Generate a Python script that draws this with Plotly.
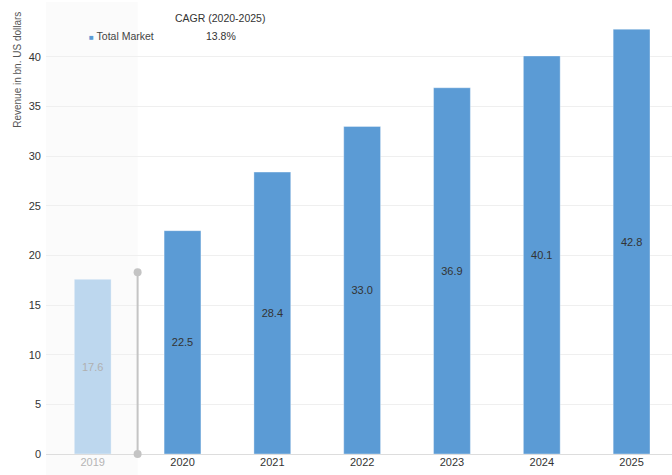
import plotly.graph_objects as go

years = ["2019", "2020", "2021", "2022", "2023", "2024", "2025"]
revenue = [17.6, 22.5, 28.4, 33.0, 36.9, 40.1, 42.8]
bar_colors = ["#bdd7ee", "#5b9bd5", "#5b9bd5", "#5b9bd5", "#5b9bd5", "#5b9bd5", "#5b9bd5"]
label_colors = ["#b0b0b0", "#333333", "#333333", "#333333", "#333333", "#333333", "#333333"]
divider_y = [0, 18.3]
yticks = [0, 5, 10, 15, 20, 25, 30, 35, 40]
cagr_label = "CAGR (2020-2025)"
cagr_value = "13.8%"

xpos = list(range(len(years)))
ticktext = [
    f'<span style="color:{"#b5b5b5" if i == 0 else "#333333"}">{y}</span>'
    for i, y in enumerate(years)
]

fig = go.Figure()
fig.add_trace(go.Bar(
    x=xpos, y=revenue, width=0.41,
    marker=dict(color=bar_colors, line=dict(color="rgba(255,255,255,0.35)", width=1)),
    text=[f"{v:.1f}" for v in revenue],
    textposition="inside", insidetextanchor="middle",
    textfont=dict(color=label_colors, size=11, family="Liberation Sans, Arial"),
    showlegend=False, hoverinfo="skip",
))
fig.add_trace(go.Scatter(
    x=[0.5, 0.5], y=divider_y, mode="lines+markers",
    line=dict(color="#c4c4c4", width=2),
    marker=dict(color="#c4c4c4", size=8),
    showlegend=False, hoverinfo="skip", cliponaxis=False,
))

fig.add_shape(type="rect", xref="x", yref="paper", x0=-0.52, x1=0.5, y0=-0.05, y1=1,
              fillcolor="#fbfbfb", line=dict(width=0), layer="below")

fig.update_layout(
    width=672, height=475,
    margin=dict(l=46, r=0, t=2, b=21),
    plot_bgcolor="rgba(0,0,0,0)", paper_bgcolor="white",
    font=dict(family="Liberation Sans, Arial", size=11, color="#333333"),
    xaxis=dict(range=[-0.52, 6.45], tickvals=xpos, ticktext=ticktext, showgrid=False,
               zeroline=False, showline=False, ticks="", tickfont=dict(size=11)),
    yaxis=dict(range=[0, 45.54], tickvals=yticks, showgrid=True, gridcolor="#efefef",
               zeroline=True, zerolinecolor="#dddddd", zerolinewidth=1,
               showline=False, ticks="", tickfont=dict(size=11, color="#333333"),
               ticklabelstandoff=4),
)

fig.add_annotation(xref="paper", yref="paper", x=-0.0447, y=0.85,
                   text="Revenue in bn. US dollars", textangle=-90, showarrow=False,
                   font=dict(size=10, color="#555555"), xanchor="center", yanchor="middle")
fig.add_annotation(xref="paper", yref="paper", x=0.065, y=0.925, xanchor="left", yanchor="middle",
                   text='<span style="color:#5b9bd5;font-size:8px">■</span> Total Market',
                   showarrow=False, font=dict(size=10.5, color="#444444"))
fig.add_annotation(xref="paper", yref="paper", x=0.278, y=0.965, xanchor="center", yanchor="middle",
                   text=cagr_label, showarrow=False, font=dict(size=10.5, color="#333333"))
fig.add_annotation(xref="paper", yref="paper", x=0.279, y=0.925, xanchor="center", yanchor="middle",
                   text=cagr_value, showarrow=False, font=dict(size=10.5, color="#333333"))

fig.write_html("out.html")
